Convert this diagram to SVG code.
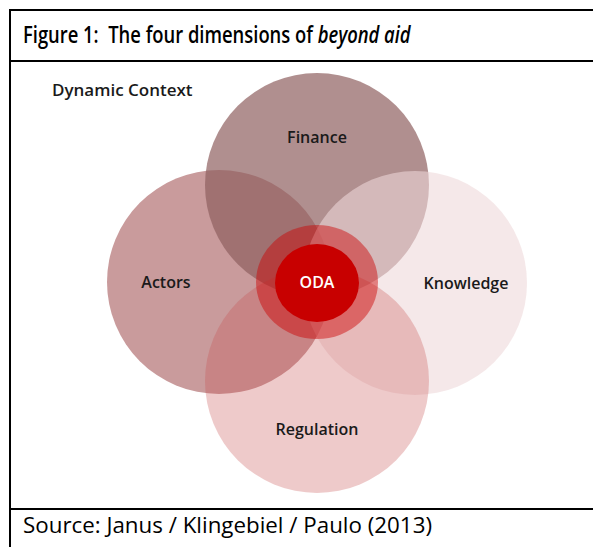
<svg xmlns="http://www.w3.org/2000/svg" width="593" height="547" viewBox="0 0 593 547">
<style>
.frame{stroke:#000;stroke-width:2;fill:none}
.lbl{font-family:"Open Sans","Liberation Sans",sans-serif;font-weight:600;font-size:16px;fill:#1a1a1a;text-anchor:middle}
.title{font-family:"Open Sans","Liberation Sans",sans-serif;font-weight:600;font-size:23px;fill:#000}
.src{font-family:"Open Sans","Liberation Sans",sans-serif;font-weight:400;font-size:21px;fill:#000}
</style>
<rect width="593" height="547" fill="#fff"/>
<g id="frame">
<path class="frame" d="M10 547 V10 H593 M10 61 H593 M10 509 H593"/>
</g>
<text class="title" transform="translate(23,43) scale(0.80,1)" x="0" y="0">Figure 1:&#160; The four dimensions of <tspan font-style="italic">beyond aid</tspan></text>
<text class="src" x="23" y="533" textLength="409" lengthAdjust="spacingAndGlyphs">Source: Janus / Klingebiel / Paulo (2013)</text>
<text class="lbl" x="52" y="96" style="text-anchor:start;font-size:17px">Dynamic Context</text>
<g id="actors"><circle cx="219" cy="282" r="112" fill="#c99b9c"/></g>
<g id="finance"><circle cx="317" cy="185" r="112" fill="rgb(142,96,96)" fill-opacity="0.7"/></g>
<g id="knowledge"><circle cx="415" cy="283" r="112" fill="rgb(238,215,217)" fill-opacity="0.58"/></g>
<g id="regulation"><circle cx="317" cy="381" r="112" fill="rgb(200,80,80)" fill-opacity="0.3"/></g>
<g id="oda">
<ellipse cx="317" cy="282" rx="61" ry="57" fill="#cc0000" fill-opacity="0.45"/>
<ellipse cx="317" cy="283" rx="42" ry="39" fill="#c80000"/>
<text class="lbl" x="317" y="288" style="fill:#fff">ODA</text>
</g>
<g id="labels">
<text class="lbl" x="317" y="143">Finance</text>
<text class="lbl" x="166" y="288">Actors</text>
<text class="lbl" x="466" y="289">Knowledge</text>
<text class="lbl" x="317" y="435">Regulation</text>
</g>
<g id="connectors"/>
</svg>
